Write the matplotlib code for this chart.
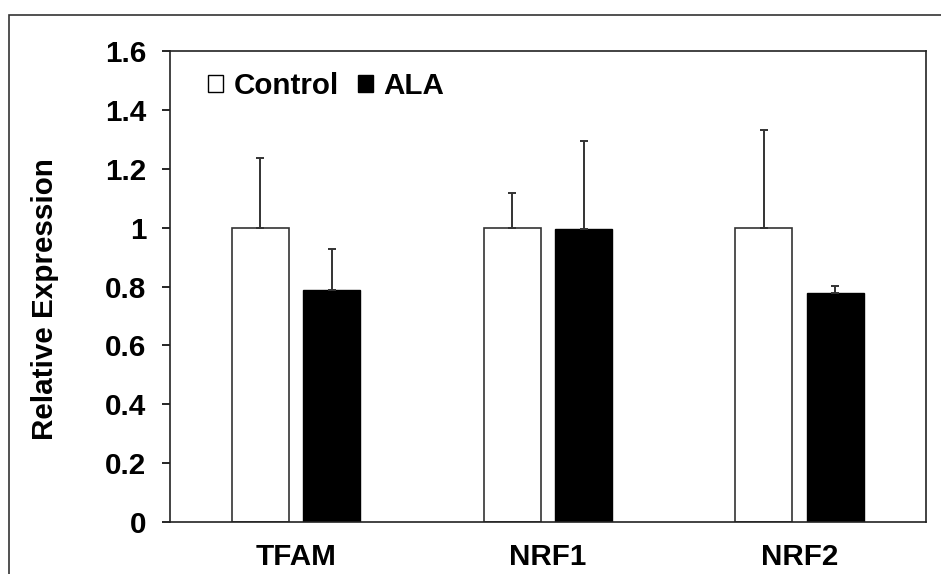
import matplotlib
matplotlib.use('Agg')
import matplotlib.pyplot as plt
from matplotlib.patches import Patch, Rectangle
import numpy as np

plt.rcParams['font.family'] = ['Liberation Sans', 'DejaVu Sans']
plt.rcParams['font.weight'] = 'bold'

genes = ['TFAM', 'NRF1', 'NRF2']
control = [1.0, 1.0, 1.0]
control_err = [0.236, 0.119, 0.333]
ala = [0.79, 0.997, 0.777]
ala_err = [0.137, 0.30, 0.024]
yticks = [0, 0.2, 0.4, 0.6, 0.8, 1, 1.2, 1.4, 1.6]
ytick_labels = ['0', '0.2', '0.4', '0.6', '0.8', '1', '1.2', '1.4', '1.6']

fs = 21.3

fig = plt.figure(figsize=(9.41, 5.74), dpi=100)
ax = fig.add_axes([0.1807, 0.0911, 0.803, 0.8192])

x = np.arange(len(genes))
w = 0.226
off = 0.142
err_kw = dict(ecolor='#333333', elinewidth=1.4, capsize=2.9, capthick=1.4)

ax.bar(x - off, control, w, color='white', edgecolor='#333333', linewidth=1.2,
       yerr=[np.zeros(3), control_err], error_kw=err_kw, label='Control', zorder=2)
ax.bar(x + off, ala, w, color='black', edgecolor='black', linewidth=1.0,
       yerr=[np.zeros(3), ala_err], error_kw=err_kw, label='ALA', zorder=2)

ax.set_xlim(-0.5, 2.5)
ax.set_ylim(0, 1.6)
ax.set_yticks(yticks)
ax.set_yticklabels(ytick_labels)
ax.set_xticks(x)
ax.set_xticklabels(genes)
ax.tick_params(axis='y', direction='out', length=6, width=1.2, pad=11, labelsize=fs)
ax.tick_params(axis='x', length=0, pad=15, labelsize=fs)
for s in ax.spines.values():
    s.set_linewidth(1.2)
    s.set_color('#222222')

ax.set_ylabel('Relative Expression', fontsize=fs, fontweight='bold')
ax.yaxis.set_label_coords(-0.147, 0.474)

handles = [Patch(facecolor='white', edgecolor='black', linewidth=1.0),
           Patch(facecolor='black', edgecolor='black')]
ax.legend(handles, ['Control', 'ALA'], loc='center left', bbox_to_anchor=(0.05, 0.926),
          ncol=2, frameon=False, fontsize=fs, handlelength=0.52, handleheight=0.52,
          handletextpad=0.34, columnspacing=0.65, borderpad=0, borderaxespad=0)

# outer chart frame (cropped on right/bottom)
fig.add_artist(Rectangle((9 / 941, -0.5), 2, 0.974 + 0.5, transform=fig.transFigure,
                         fill=False, edgecolor='#333333', linewidth=1.2))

fig.savefig('out.png', dpi=100)
